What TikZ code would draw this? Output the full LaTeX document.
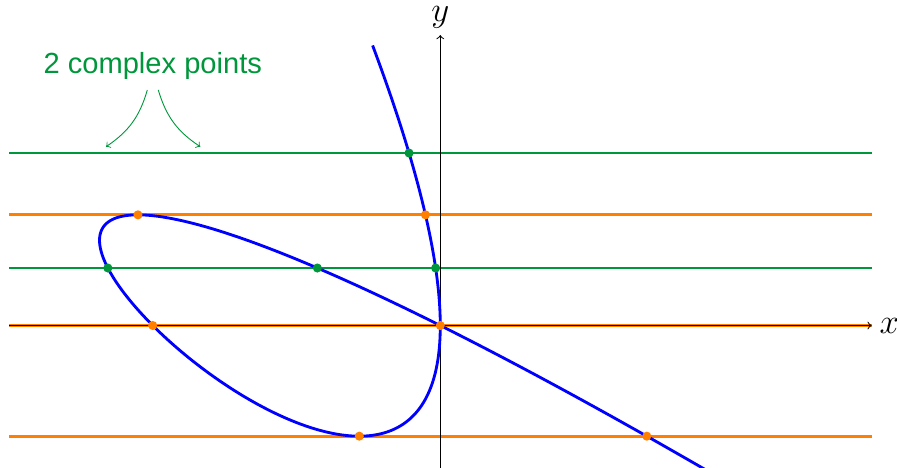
\documentclass[tikz,border=0pt]{standalone}
\usepackage{fontspec}
\newfontfamily\labelfont{Liberation Sans}
\definecolor{cgreen}{RGB}{0,150,60}
\definecolor{corange}{RGB}{255,128,0}
\begin{document}
\begin{tikzpicture}[
  hline/.style={line width=1.4pt},
  curvestyle/.style={blue, line width=1.4pt},
  dotg/.style={circle, fill=cgreen, inner sep=0pt, minimum size=4.5pt},
  doto/.style={circle, fill=corange, inner sep=0pt, minimum size=4.5pt},
  axisstyle/.style={->, line width=0.5pt},
  note/.style={->, cgreen, line width=0.45pt},
]
\useasboundingbox (-7.657,-2.478) rectangle (7.943,5.661);
\begin{scope}
\clip (-7.657,-2.478) rectangle (7.943,5.661);
% horizontal lines
\draw[hline, cgreen]  (-7.5,3) -- (7.5,3);
\draw[hline, corange] (-7.5,1.9245) -- (7.5,1.9245);
\draw[hline, cgreen]  (-7.5,1) -- (7.5,1);
\draw[hline, corange] (-7.5,0) -- (7.5,0);
\draw[hline, corange] (-7.5,-1.9245) -- (7.5,-1.9245);
% axes
\coordinate (xs) at (-7.5,0);
\coordinate (xe) at (7.5,0);
\coordinate (ys) at (0,-2.6);
\coordinate (ye) at (0,5.05);
\draw[axisstyle] (xs) -- (xe);
\draw[axisstyle] (ys) -- (ye);
% curve (x+y)^3 + 5x(x+2y) = 0
\draw[curvestyle] plot[domain=-1.25:1.321, samples=300, smooth, variable=\s]
  ({5*(\s*\s-1)*(1-\s)}, {5*\s*(\s*\s-1)});
\end{scope}
\node[font=\LARGE] (xl) at (7.81,0) {$x$};
\node[font=\LARGE] (yl) at (0,5.36) {$y$};
% intersection points
\node[dotg] (g1) at (-0.5435,3) {};
\node[doto] (o1) at (-5.2578,1.9245) {};
\node[doto] (o2) at (-0.2578,1.9245) {};
\node[dotg] (g2) at (-5.7815,1) {};
\node[dotg] (g3) at (-2.1375,1) {};
\node[dotg] (g4) at (-0.081,1) {};
\node[doto] (o3) at (-5,0) {};
\node[doto] (o4) at (0,0) {};
\node[doto] (o5) at (-1.4088,-1.9245) {};
\node[doto] (o6) at (3.5912,-1.9245) {};
% label
\node[text=cgreen, font=\labelfont\Large] (lab) at (-5.0,4.51) {2 complex points};
\coordinate (la) at (-5.095,4.096);
\coordinate (ra) at (-4.904,4.096);
\coordinate (lt) at (-5.812,3.11);
\coordinate (rt) at (-4.174,3.11);
\draw[note] (la) to[bend left=20] (lt);
\draw[note] (ra) to[bend right=20] (rt);
\end{tikzpicture}
\end{document}
